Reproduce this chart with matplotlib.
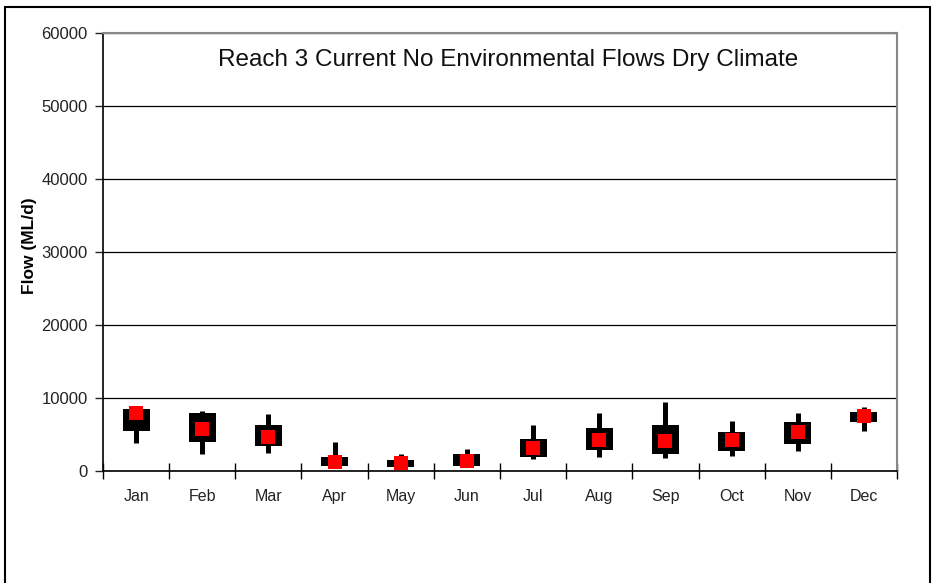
import numpy as np
import matplotlib
matplotlib.use('Agg')
import matplotlib.pyplot as plt
from matplotlib.patches import Rectangle

plt.rcParams['font.family'] = ['Liberation Sans', 'DejaVu Sans']

months = ['Jan', 'Feb', 'Mar', 'Apr', 'May', 'Jun',
          'Jul', 'Aug', 'Sep', 'Oct', 'Nov', 'Dec']
flow_mean = [7950, 5800, 4660, 1270, 1060, 1330, 3180, 4210, 4070, 4210, 5320, 7540]
flow_q1 = [5520, 4010, 3420, 690, 590, 690, 1960, 2880, 2290, 2740, 3700, 6670]
flow_q3 = [8500, 7900, 6300, 1960, 1510, 2290, 4340, 5930, 6300, 5300, 6750, 8120]
flow_low = [3840, 2290, 2420, 690, 590, 690, 1640, 1960, 1740, 2100, 2740, 5520]
flow_high = [8500, 8220, 7770, 4010, 2330, 3010, 6300, 7900, 9490, 6890, 7900, 8730]

yticks = [0, 10000, 20000, 30000, 40000, 50000, 60000]

fig = plt.figure(figsize=(9.33, 5.83), dpi=100)
ax = fig.add_axes([103/933, 1 - 471/583, 794/933, 438/583])

x = np.arange(len(months))
q1 = np.array(flow_q1)
q3 = np.array(flow_q3)

# whiskers, boxes, then the mean markers on top
ax.vlines(x, flow_low, flow_high, color='black', linewidth=3.6, zorder=3)
ax.bar(x, q3 - q1, bottom=q1, width=0.41, color='black', zorder=3)
ax.plot(x, flow_mean, 's', color='#ff0000', markersize=9.5, markeredgewidth=0, zorder=4)

ax.set_xlim(-0.5, 11.5)
ax.set_ylim(0, 60000)
ax.set_yticks(yticks)
ax.set_yticklabels([str(v) for v in yticks])
ax.grid(axis='y', color='black', linewidth=0.9)
ax.set_axisbelow(True)

ax.set_xticks(np.arange(-0.5, 12, 1))
ax.set_xticklabels([])
ax.set_xticks(x, minor=True)
ax.set_xticklabels(months, minor=True)
ax.tick_params(axis='x', which='major', direction='inout', length=11, width=1)
ax.tick_params(axis='x', which='minor', length=0, pad=13, labelsize=11.5, colors='#222222')
ax.tick_params(axis='y', direction='out', length=6, width=1, pad=5, labelsize=12, colors='#222222')

for side in ['top', 'right']:
    ax.spines[side].set_color('#888888')
    ax.spines[side].set_linewidth(1.5)
for side in ['left', 'bottom']:
    ax.spines[side].set_color('black')
    ax.spines[side].set_linewidth(1.2)

ax.set_ylabel('Flow (ML/d)', fontsize=12.5, fontweight='bold')
ax.yaxis.set_label_coords(-0.083, 0.514)
ax.text(0.51, 0.938, 'Reach 3 Current No Environmental Flows Dry Climate',
        transform=ax.transAxes, ha='center', va='center', fontsize=17.5, color='#111111')

# outer chart border (bottom edge runs off the image)
fig.patches.append(Rectangle((5/933, -0.05), 925/933, 1.05 - 7/583,
                             transform=fig.transFigure, fill=False,
                             edgecolor='black', linewidth=1.5))

fig.savefig('out.png', dpi=100)
